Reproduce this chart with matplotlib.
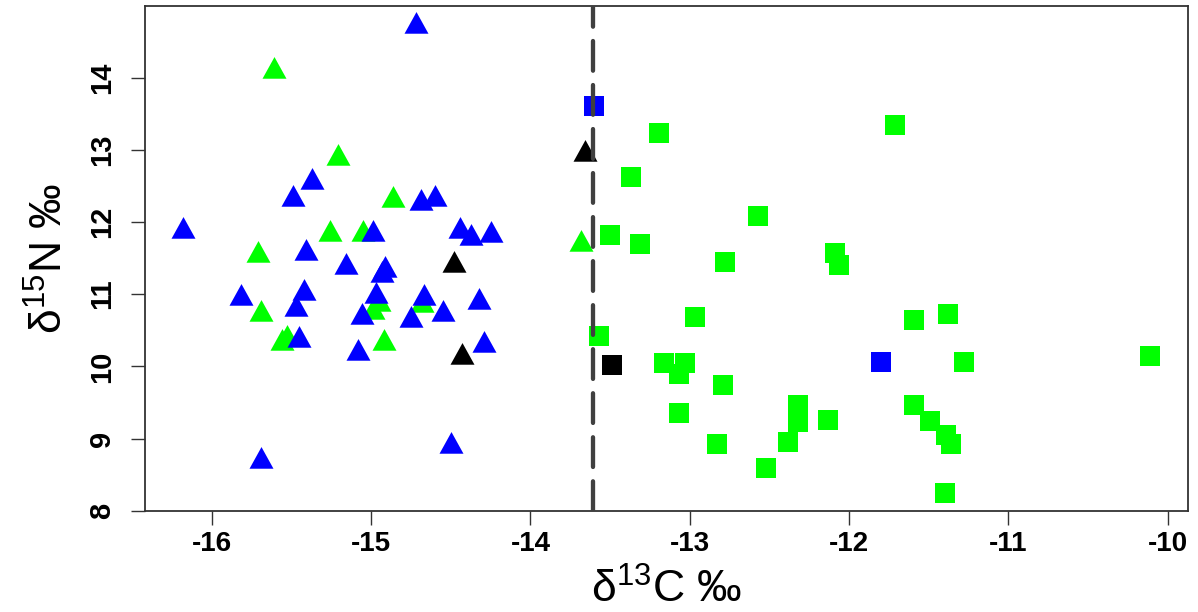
import matplotlib
matplotlib.use('Agg')
import matplotlib.pyplot as plt
import matplotlib.font_manager as fm

plt.rcParams['font.family'] = ['Liberation Sans', 'DejaVu Sans']
plt.rcParams['mathtext.fontset'] = 'custom'
plt.rcParams['mathtext.rm'] = 'Liberation Sans'
plt.rcParams['lines.scale_dashes'] = False

# 刻度标签用窄体（没有就退回普通体）
names = {f.name for f in fm.fontManager.ttflist}
narrow = 'Liberation Sans Narrow' if 'Liberation Sans Narrow' in names else 'Liberation Sans'

# 三角形 = 一组, 方块 = 另一组
blue_tri_x = [-14.72, -15.37, -15.49, -14.69, -14.60, -16.18, -14.99, -14.44, -14.37, -14.25,
              -15.41, -15.16, -14.91, -14.93, -15.82, -15.42, -15.47, -14.97, -15.06, -14.67,
              -14.75, -14.55, -14.32, -15.45, -15.08, -14.29, -14.50, -15.69]
blue_tri_y = [14.72, 12.56, 12.32, 12.27, 12.32, 11.88, 11.83, 11.88, 11.78, 11.82,
              11.57, 11.38, 11.33, 11.27, 10.95, 11.02, 10.79, 10.98, 10.68, 10.95,
              10.64, 10.73, 10.89, 10.36, 10.19, 10.30, 8.89, 8.69]

green_tri_x = [-15.61, -15.21, -14.86, -15.26, -15.05, -15.71, -15.69, -14.95, -14.99, -14.68,
               -15.56, -15.53, -14.92, -13.68]
green_tri_y = [14.09, 12.89, 12.31, 11.84, 11.83, 11.54, 10.73, 10.86, 10.75, 10.85,
               10.33, 10.38, 10.32, 11.70]

black_tri_x = [-14.48, -14.43, -13.66]
black_tri_y = [11.41, 10.13, 12.94]

green_sq_x = [-13.19, -13.37, -12.57, -13.50, -13.31, -12.78, -11.71, -12.09, -12.06, -12.97,
              -11.59, -11.38, -13.03, -13.07, -13.07, -12.79, -12.83, -12.52, -12.38, -12.32,
              -12.32, -12.13, -11.28, -10.11, -11.59, -11.49, -11.39, -11.36, -11.40, -13.57,
              -13.16]
green_sq_y = [13.23, 12.63, 12.08, 11.82, 11.69, 11.44, 13.34, 11.57, 11.40, 10.68,
              10.64, 10.72, 10.05, 9.89, 9.35, 9.74, 8.93, 8.59, 8.95, 9.47,
              9.23, 9.25, 10.06, 10.15, 9.46, 9.24, 9.05, 8.92, 8.25, 10.42,
              10.05]

blue_sq_x = [-13.60, -11.80]
blue_sq_y = [13.61, 10.06]

black_sq_x = [-13.49]
black_sq_y = [10.02]

split_x = -13.61

xticks = [-16, -15, -14, -13, -12, -11, -10]
yticks = [8, 9, 10, 11, 12, 13, 14]

# R 风格的三角形（中心在外接圆心）
tri = [(0, 1), (-0.83, -0.5), (0.83, -0.5)]

fig = plt.figure(figsize=(11.98, 6.12), dpi=100)
ax = fig.add_axes([0.121, 0.1655, 0.8709, 0.8244])

ax.plot(green_tri_x, green_tri_y, ls='none', marker=tri, ms=20.8, mew=0, color='#00ff00')
ax.plot(blue_tri_x, blue_tri_y, ls='none', marker=tri, ms=20.8, mew=0, color='#0000ff')
ax.plot(black_tri_x, black_tri_y, ls='none', marker=tri, ms=20.8, mew=0, color='black')
ax.plot(green_sq_x, green_sq_y, ls='none', marker='s', ms=13.7, mew=0, color='#00ff00')
ax.plot(blue_sq_x, blue_sq_y, ls='none', marker='s', ms=13.7, mew=0, color='#0000ff')
ax.plot(black_sq_x, black_sq_y, ls='none', marker='s', ms=13.7, mew=0, color='black')

ax.axvline(split_x, color='#404040', lw=3.1, dashes=(21.4, 10.3),
           dash_capstyle='round', zorder=5)

ax.set_xlim(-16.42, -9.87)
ax.set_ylim(8, 14.99)

ax.set_xticks(xticks, labels=[str(t) for t in xticks], fontsize=20,
              fontweight='bold', family=narrow)
ax.set_yticks(yticks, labels=[str(t) for t in yticks], fontsize=21,
              fontweight='bold', rotation=90, va='center')
ax.tick_params(axis='x', length=9.9, width=1, color='#333333', pad=5)
ax.tick_params(axis='y', length=9.9, width=1, color='#333333', pad=11)

for s in ax.spines.values():
    s.set_color('#333333')
    s.set_linewidth(1.3)

ax.set_xlabel(r'δ$^{\mathrm{13}}$C ‰', fontsize=32, labelpad=8)
ax.set_ylabel(r'δ$^{\mathrm{15}}$N ‰', fontsize=32, labelpad=12)

fig.savefig('out.png', dpi=100)
